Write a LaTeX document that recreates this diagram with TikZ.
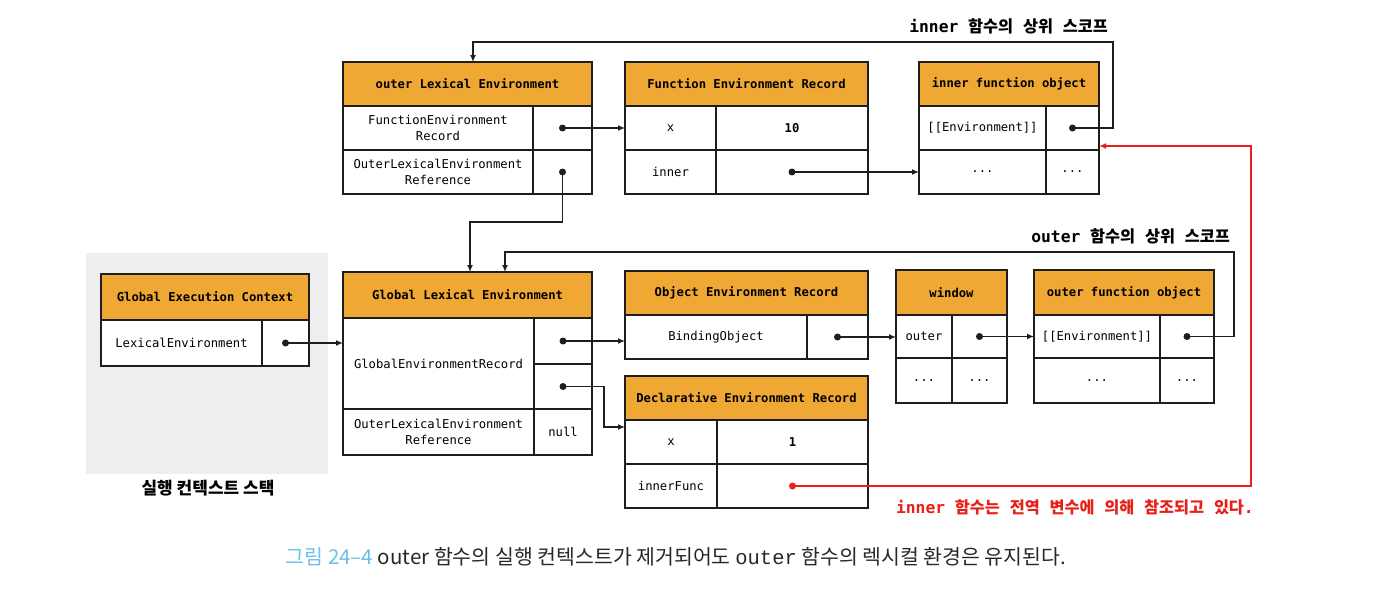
\documentclass[tikz,border=0pt]{standalone}
\usepackage{fontspec}
\usetikzlibrary{arrows.meta}
\newfontfamily\mono{DejaVu Sans Mono}
\newfontfamily\kr{Noto Sans CJK KR}
\newfontfamily\cmono{Liberation Mono}
\definecolor{hdrorange}{RGB}{240,168,52}
\definecolor{redc}{RGB}{232,32,26}
\definecolor{capblue}{RGB}{110,190,235}
\definecolor{capgray}{RGB}{40,40,40}
\definecolor{bggray}{RGB}{238,238,238}
\definecolor{ln}{RGB}{30,30,30}
\newcommand\mkcell[7]{\node[#1,anchor=north west,minimum width={(#5-#3)*1pt},minimum height={(#6-#4)*1pt}] (#2) at (#3,#4) {#7};}
\tikzset{
  cell/.style={draw=ln, line width=1.2pt, inner sep=0pt, outer sep=0pt, align=center, fill=white,
    font=\mono\fontsize{12.2}{15.5}\selectfont},
  hdrcell/.style={cell, fill=hdrorange, font=\mono\bfseries\fontsize{12.2}{15.5}\selectfont},
  valcell/.style={cell, font=\mono\bfseries\fontsize{12.2}{15.5}\selectfont},
  conn/.style={draw=ln, line width=1.4pt, -{Latex[length=7pt,width=6pt]}},
  redconn/.style={conn, draw=redc},
  lbl/.style={inner sep=0pt, font=\mono\bfseries\fontsize{16.3}{18}\selectfont},
}
\newcommand\dotat[2][ln]{\fill[#1] (#2) circle (3.5pt);}
\begin{document}
\begin{tikzpicture}[x=1pt,y=-1pt]
\useasboundingbox[fill=white] (0,0) rectangle (1376,613);
% stack background
\fill[bggray] (86,253) rectangle (328,474);
% outer Lexical Environment
\mkcell{hdrcell}{oleH}{343}{62}{592}{106}{outer Lexical Environment}
\mkcell{cell}{oleR1k}{343}{106}{533}{150}{FunctionEnvironment\\Record}
\mkcell{cell}{oleR1v}{533}{106}{592}{150}{}
\mkcell{cell}{oleR2k}{343}{150}{533}{194}{OuterLexicalEnvironment\\Reference}
\mkcell{cell}{oleR2v}{533}{150}{592}{194}{}
% Function Environment Record
\mkcell{hdrcell}{ferH}{625}{62}{868}{106}{Function Environment Record}
\mkcell{cell}{ferR1k}{625}{106}{716}{150}{x}
\mkcell{valcell}{ferR1v}{716}{106}{868}{150}{10}
\mkcell{cell}{ferR2k}{625}{150}{716}{194}{inner}
\mkcell{cell}{ferR2v}{716}{150}{868}{194}{}
% inner function object
\mkcell{hdrcell}{ifoH}{919}{62}{1099}{106}{inner function object}
\mkcell{cell}{ifoR1k}{919}{106}{1046}{150}{[[Environment]]}
\mkcell{cell}{ifoR1v}{1046}{106}{1099}{150}{}
\mkcell{cell}{ifoR2k}{919}{150}{1046}{194}{...}
\mkcell{cell}{ifoR2v}{1046}{150}{1099}{194}{...}
% Global Execution Context
\mkcell{hdrcell}{gecH}{101}{274}{309}{320}{Global Execution Context}
\mkcell{cell}{gecRk}{101}{320}{262}{366}{LexicalEnvironment}
\mkcell{cell}{gecRv}{262}{320}{309}{366}{}
% Global Lexical Environment
\mkcell{hdrcell}{gleH}{343}{272}{592}{318}{Global Lexical Environment}
\mkcell{cell}{gleBig}{343}{318}{534}{409}{GlobalEnvironmentRecord}
\mkcell{cell}{gleS1}{534}{318}{592}{364}{}
\mkcell{cell}{gleS2}{534}{364}{592}{409}{}
\mkcell{cell}{gleR3k}{343}{409}{534}{455}{OuterLexicalEnvironment\\Reference}
\mkcell{cell}{gleR3v}{534}{409}{592}{455}{null}
% Object Environment Record
\mkcell{hdrcell}{oerH}{625}{271}{868}{315}{Object Environment Record}
\mkcell{cell}{oerRk}{625}{315}{807}{359}{BindingObject}
\mkcell{cell}{oerRv}{807}{315}{868}{359}{}
% Declarative Environment Record
\mkcell{hdrcell}{derH}{625}{376}{868}{420}{Declarative Environment Record}
\mkcell{cell}{derR1k}{625}{420}{717}{464}{x}
\mkcell{valcell}{derR1v}{717}{420}{868}{464}{1}
\mkcell{cell}{derR2k}{625}{464}{717}{508}{innerFunc}
\mkcell{cell}{derR2v}{717}{464}{868}{508}{}
% window
\mkcell{hdrcell}{winH}{896}{270}{1007}{315}{window}
\mkcell{cell}{winR1k}{896}{315}{952}{358}{outer}
\mkcell{cell}{winR1v}{952}{315}{1007}{358}{}
\mkcell{cell}{winR2k}{896}{358}{952}{403}{...}
\mkcell{cell}{winR2v}{952}{358}{1007}{403}{...}
% outer function object
\mkcell{hdrcell}{ofoH}{1034}{270}{1214}{315}{outer function object}
\mkcell{cell}{ofoR1k}{1034}{315}{1160}{358}{[[Environment]]}
\mkcell{cell}{ofoR1v}{1160}{315}{1214}{358}{}
\mkcell{cell}{ofoR2k}{1034}{358}{1160}{403}{...}
\mkcell{cell}{ofoR2v}{1160}{358}{1214}{403}{...}
% bend coordinates
\coordinate (k1) at (1113,42);
\coordinate (k1b) at (473,42);
\coordinate (k4) at (470,222);
\coordinate (k7) at (604,427);
\coordinate (k10) at (1234,252);
\coordinate (k10b) at (505,252);
\coordinate (k11) at (1251,146);
% connectors
\draw[conn] (ifoR1v.center) -| (k1) -- (k1b) -- (k1b |- oleH.north);
\draw[conn] (oleR1v.center) -- (oleR1v.center -| ferR1k.west);
\draw[conn] (ferR2v.center) -- (ferR2v.center -| ifoR2k.west);
\draw[conn] (oleR2v.center) |- (k4) -- (k4 |- gleH.north);
\draw[conn] (gecRv.center) -- (gecRv.center -| gleBig.west);
\draw[conn] (gleS1.center) -- (gleS1.center -| oerRk.west);
\draw[conn] (gleS2.center) -| (k7) -- (k7 -| derR1k.west);
\draw[conn] (oerRv.center) -- (oerRv.center -| winR1k.west);
\draw[conn] (winR1v.center) -- (winR1v.center -| ofoR1k.west);
\draw[conn] (ofoR1v.center) -| (k10) -- (k10b) -- (k10b |- gleH.north);
\draw[redconn] (derR2v.center) -| (k11) -- (k11 -| ifoR1v.east);
% dots
\dotat{ifoR1v.center}
\dotat{oleR1v.center}
\dotat{oleR2v.center}
\dotat{ferR2v.center}
\dotat{gecRv.center}
\dotat{gleS1.center}
\dotat{gleS2.center}
\dotat{oerRv.center}
\dotat{winR1v.center}
\dotat{ofoR1v.center}
\dotat[redc]{derR2v.center}
% labels
\node[lbl, anchor=east] (lblInner) at (1108,26) {inner {\kr 함수의} {\kr 상위} {\kr 스코프}};
\node[lbl, anchor=east] (lblOuter) at (1230,236) {outer {\kr 함수의} {\kr 상위} {\kr 스코프}};
\node[lbl, anchor=east, text=redc] (lblRed) at (1254,507) {inner {\kr 함수는} {\kr 전역} {\kr 변수에} {\kr 의해} {\kr 참조되고} {\kr 있다}.};
\node[inner sep=0pt, font=\kr\bfseries\fontsize{17}{20}\selectfont] (lblStack) at (208,488) {실행 컨텍스트 스택};
\node[inner sep=0pt, text=capgray, font=\kr\fontsize{20.5}{23}\selectfont] (caption) at (676,557)
  {\textcolor{capblue}{그림 24–4} outer 함수의 실행 컨텍스트가 제거되어도 {\cmono outer} 함수의 렉시컬 환경은 유지된다.};
\end{tikzpicture}
\end{document}
